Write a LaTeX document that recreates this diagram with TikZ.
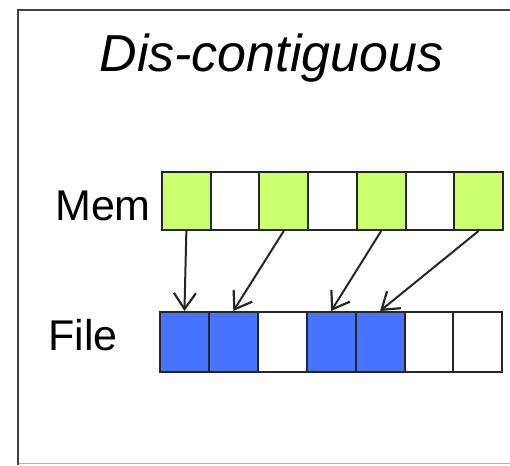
\documentclass[tikz,border=0pt]{standalone}
\usepackage{fontspec}
\setmainfont{Liberation Sans}
\usetikzlibrary{arrows.meta}
\definecolor{memgreen}{RGB}{204,255,110}
\definecolor{fileblue}{RGB}{70,115,255}
\tikzset{
  memcell/.style={draw=black!85, line width=2pt, minimum width=48.7pt, minimum height=58pt, inner sep=0pt, fill=white},
  filecell/.style={draw=black!85, line width=2pt, minimum width=48.9pt, minimum height=60pt, inner sep=0pt, fill=white},
  arr/.style={draw=black!85, line width=2pt, -{Straight Barb[length=16pt,width=22pt,line width=2.2pt]}},
  lbl/.style={inner sep=0pt, font=\fontsize{43}{50}\selectfont}
}
\begin{document}
\begin{tikzpicture}[x=1pt,y=-1pt]
\useasboundingbox (0,0) rectangle (510,465);
\fill[white] (0,0) rectangle (510,465);
% frame
\draw[black!30, line width=1pt] (18,463.5) -- (510,463.5);
\draw[black!75, line width=2.6pt] (18,465) -- (18,10) -- (510,10);
% title
\node[inner sep=0pt, anchor=base, font=\fontsize{52}{60}\selectfont\itshape] (title) at (271.5,72) {Dis-contiguous};
% labels
\node[lbl, anchor=base east] (mem) at (151,220) {Mem};
\node[lbl, anchor=base east] (file) at (118,350) {File};
% mem cells
\foreach \i/\c in {1/memgreen,2/white,3/memgreen,4/white,5/memgreen,6/white,7/memgreen}{
  \node[memcell, fill=\c] (m\i) at ({162+48.7*(\i-0.5)},201) {};
}
% file cells
\foreach \i/\c in {1/fileblue,2/fileblue,3/white,4/fileblue,5/fileblue,6/white,7/white}{
  \node[filecell, fill=\c] (f\i) at ({160+48.9*(\i-0.5)},342) {};
}
% arrows
\draw[arr] (m1.south) -- (f1.north);
\draw[arr] (m3.south) -- (f2.north);
\draw[arr] (m5.south) -- (f4.north);
\draw[arr] (m7.south) -- (f5.north);
\end{tikzpicture}
\end{document}
